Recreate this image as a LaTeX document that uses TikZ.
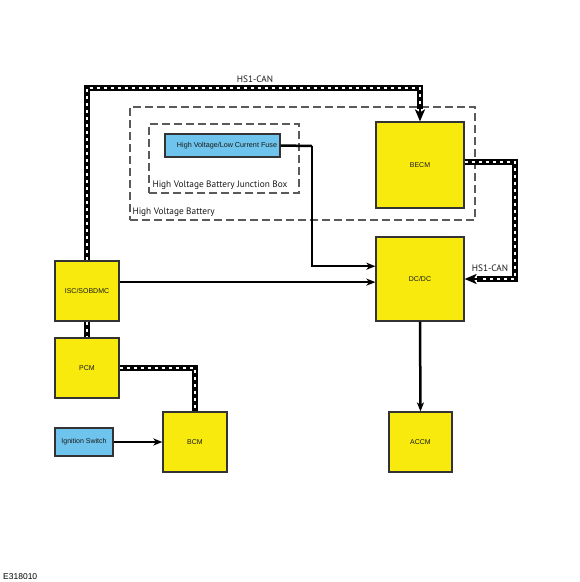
\documentclass[tikz,border=0pt]{standalone}
\usepackage{fontspec}
\setmainfont{Liberation Sans}
\newfontfamily\labelfont{PT Sans}
\usetikzlibrary{arrows.meta,positioning,calc}
\definecolor{modyellow}{HTML}{F7EA0C}
\definecolor{fuseblue}{HTML}{6EC4EC}
\definecolor{edgegray}{HTML}{333333}
\definecolor{zonegray}{HTML}{5A5A5A}
\tikzset{
  modbox/.style={
    draw=edgegray,
    line width=1.2pt,
    fill=modyellow,
    inner sep=0pt,
    font=\fontsize{7}{8}\selectfont,
    text=black!90
  },
  fusebox/.style={
    modbox,
    fill=fuseblue
  },
  zonebox/.style={
    draw=zonegray,
    line width=1.4pt,
    dash pattern=on 8pt off 4pt,
    inner sep=0pt
  },
  zonelabel/.style={
    font=\labelfont\fontsize{9.3}{11}\selectfont,
    text=black!90,
    inner sep=0pt
  },
  wirearrow/.style={-{Stealth[length=9pt,width=7pt,inset=2.5pt]},line width=2.5pt,draw=black},
  wireline/.style={line width=2.5pt,draw=black},
  cantip/.style={-{Stealth[length=12pt,width=10pt,inset=3pt]},line width=2.5pt,draw=black},
  canline/.style={
    line width=5.5pt,
    draw=black,
    postaction={draw=white,line width=1.6pt,dash pattern=on 3pt off 4pt,arrows=-}
  }
}

\begin{document}
\begin{tikzpicture}[x=1pt,y=-1pt]
\useasboundingbox (0,0) rectangle (580,582);

% battery and junction box
\node[zonebox,minimum width=345,minimum height=113] (battery) at (302.5,163.5) {};
\node[zonebox,minimum width=150,minimum height=69] (jbox) at (224,158.5) {};
\node[zonelabel,anchor=south west] (batterylbl) at ([xshift=3pt,yshift=4pt]battery.south west) {High Voltage Battery};
\node[zonelabel,anchor=south west] (jboxlbl) at ([xshift=4pt,yshift=4pt]jbox.south west) {High Voltage Battery Junction Box};
\node[fusebox,minimum width=115,minimum height=23,font=\fontsize{7.2}{8}\selectfont] (fuse) at (222.5,145.5) {\hspace*{9pt}High Voltage/Low Current Fuse};

% modules
\node[modbox,minimum width=88,minimum height=86] (becm) at (420,165) {BECM};
\node[modbox,minimum width=88,minimum height=84] (dcdc) at (420,279) {DC/DC};
\node[modbox,minimum width=64,minimum height=60] (isc) at (87,291) {ISC/SOBDMC};
\node[modbox,minimum width=64,minimum height=60] (pcm) at (87,368) {PCM};
\node[modbox,minimum width=64,minimum height=60] (bcm) at (195,442) {BCM};
\node[modbox,minimum width=63,minimum height=60] (accm) at (420.5,442) {ACCM};
\node[fusebox,minimum width=58,minimum height=28] (ign) at (84,442) {Ignition Switch};

% bus corners
\coordinate (cantop) at (87,88);
\coordinate (canright) at (515,162);
\coordinate (fusebend) at (312,146);

% HS1-CAN
\draw[canline] (isc.north) -- (cantop) -| ([yshift=12pt]becm.north);
\draw[cantip] ([yshift=14pt]becm.north) -- (becm.north);
\draw[canline] (becm.east |- canright) -- (canright) |- ([xshift=12pt]dcdc.east);
\draw[cantip] ([xshift=14pt]dcdc.east) -- (dcdc.east);
\draw[canline] (isc.south) -- (pcm.north);
\draw[canline] (pcm.east) -| (bcm.north);
\node[zonelabel] (canlbltop) at (255,79) {HS1-CAN};
\node[zonelabel] (canlblright) at (490,268) {HS1-CAN};

% hardwired
\draw[wireline] (fuse.east) -- (fusebend);
\draw[wirearrow] (fusebend) |- (dcdc.164);
\draw[wirearrow] (isc.east |- dcdc.184) -- (dcdc.184);
\draw[wirearrow] (ign.east) -- (bcm.west);
\draw[wirearrow] (dcdc.south) -- (accm.north);

\node[anchor=west,font=\fontsize{8.5}{9}\selectfont,inner sep=0pt] (figid) at (3,577) {E318010};
\end{tikzpicture}
\end{document}
